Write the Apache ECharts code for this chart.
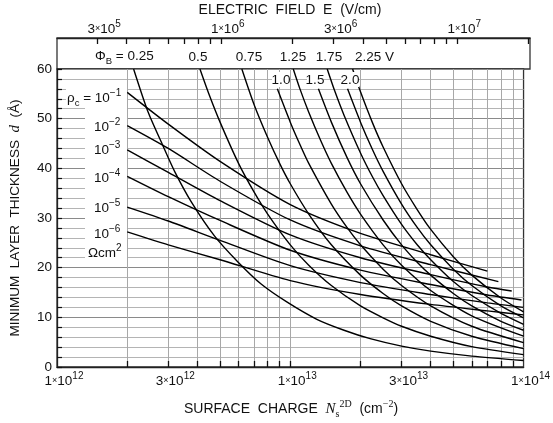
<!DOCTYPE html>
<html>
<head>
<meta charset="utf-8">
<script src="https://cdn.jsdelivr.net/npm/echarts@6/dist/echarts.min.js"></script>
<style>
html, body { margin: 0; padding: 0; background: #fff; }
#chart { width: 553px; height: 423px; }
</style>
</head>
<body>
<div id="chart"></div>
<script>
// surface charge N in units of 1e12 cm^-2, thickness d in Angstrom
const phi025 = [[2.13, 60], [2.45, 51.5], [2.83, 44.8], [3.2, 39.3], [3.77, 33.2], [4.73, 26.4], [5.95, 21.2], [7.5, 16.7], [9.66, 13.1], [13, 9.6], [17, 7.4], [22, 5.7], [30, 4.2], [40, 3.2], [60, 2.2], [100, 1.3]]
const phi050 = [[4.1, 60], [4.5, 54.7], [5, 49.3], [6, 41], [7, 35.2], [8, 30.8], [10, 24.6], [12, 20.5], [15, 16.4], [20, 12.3], [25, 9.9], [30, 8.2], [40, 6.2], [60, 4.1], [100, 2.5]]
const phi075 = [[6.2, 60], [7, 52.8], [8, 46.2], [9, 41], [10, 36.9], [12, 30.8], [15, 24.6], [20, 18.5], [25, 14.8], [30, 12.3], [40, 9.2], [60, 6.2], [100, 3.7]]
const phi100 = [[8.8, 56], [10, 49.3], [11, 44.8], [12, 41], [15, 32.8], [17.5, 28.1], [20, 24.6], [25, 19.7], [30, 16.4], [40, 12.3], [60, 8.2], [100, 4.9]]
const phi125 = [[10.3, 60], [11, 56], [12, 51.3], [13.5, 45.6], [15, 41], [17.5, 35.2], [20, 30.8], [25, 24.6], [30, 20.5], [40, 15.4], [60, 10.3], [100, 6.2]]
const phi150 = [[13.2, 56], [15, 49.3], [17.5, 42.2], [20, 36.9], [25, 29.6], [30, 24.6], [35, 21.1], [40, 18.5], [50, 14.8], [60, 12.3], [80, 9.2], [100, 7.4]]
const phi175 = [[14.4, 60], [15.5, 55.6], [17, 50.7], [20, 43.1], [22.5, 38.3], [25, 34.5], [30, 28.7], [35, 24.6], [40, 21.6], [50, 17.2], [60, 14.4], [80, 10.8], [100, 8.6]]
const phi200 = [[17.6, 56], [20, 49.3], [22.5, 43.8], [25, 39.4], [30, 32.8], [35, 28.1], [40, 24.6], [50, 19.7], [60, 16.4], [80, 12.3], [100, 9.9]]
const phi225 = [[18.5, 60], [20, 55.4], [22.5, 49.2], [25, 44.3], [30, 36.9], [35, 31.7], [40, 27.7], [50, 22.2], [60, 18.5], [80, 13.9], [100, 11.1]]

const rho1 = [[2, 55.3], [3, 48.9], [5, 41.4], [10, 32.7], [20, 26.9], [40, 22.6], [70, 19.3]]
const rho2 = [[2, 48.6], [3, 44], [5, 37.4], [10, 29.6], [20, 24.4], [40, 20.6], [78, 17.2]]
const rho3 = [[2, 43.7], [3, 39.2], [5, 33.5], [10, 26.6], [20, 22], [40, 18.6], [70, 16.1], [89, 15.3]]
const rho4 = [[2, 38.4], [3, 34.3], [5, 29.5], [10, 23.5], [20, 19.5], [40, 16.6], [70, 14.5], [98, 13.5]]
const rho5 = [[2, 32.2], [3, 29.4], [5, 25.5], [10, 20.4], [20, 17], [40, 14.6], [70, 12.9], [100, 12]]
const rho6 = [[2, 27.2], [3, 24.6], [5, 21.6], [10, 17.4], [20, 14.6], [40, 12.6], [70, 11.3], [100, 10.5]]

const bottomLabels = [1e12, 3e12, 1e13, 3e13, 1e14]
const topLabels = [3e5, 1e6, 3e6, 1e7]
const fieldMin = 2.03e5   // E at N = 1e12
const fieldMax = 2.03e7   // E at N = 1e14

const FONT = '"Liberation Sans", Arial, Helvetica, sans-serif'
const lg = Math.log10

function logTicks (from, to) {
  let out = []
  for (let e = Math.floor(from); e <= Math.ceil(to); e++) {
    for (let k = 1; k < 10; k++) {
      let v = e + lg(k)
      if (v > from + 1e-6 && v < to - 1e-6) out.push(v)
    }
  }
  return out
}

function sciLabel (v) {
  let e = Math.floor(v + 1e-6)
  let m = Math.round(Math.pow(10, v - e))
  return '{b|' + m + '}{x|×}{b|10}{s|' + e + '}'
}

const labelRich = {
  b: { fontSize: 13.5, fontFamily: FONT, color: '#111', lineHeight: 20 },
  x: { fontSize: 9, fontFamily: FONT, color: '#111', lineHeight: 20 },
  s: { fontSize: 10, fontFamily: FONT, color: '#111', verticalAlign: 'top', lineHeight: 11 }
}

function toSeries (pts) {
  return {
    type: 'line',
    xAxisIndex: 0,
    yAxisIndex: 0,
    data: pts.map(p => [12 + lg(p[0]), p[1]]),
    showSymbol: false,
    smooth: 0.25,
    lineStyle: { color: '#000', width: 1.4 },
    silent: true,
    animation: false
  }
}

const allCurves = [phi025, phi050, phi075, phi100, phi125, phi150, phi175, phi200, phi225,
  rho1, rho2, rho3, rho4, rho5, rho6]

function txt (x, y, text, align, size) {
  return {
    type: 'text', x: x, y: y, z: 20,
    style: {
      text: text, align: align || 'center', verticalAlign: 'middle',
      fontSize: size || 13.5, fontFamily: FONT, fill: '#111',
      rich: {
        sub: { fontSize: 9.5, fontFamily: FONT, verticalAlign: 'bottom', lineHeight: 10 },
        sup: { fontSize: 10, fontFamily: FONT, verticalAlign: 'top', lineHeight: 11 },
        n: { fontSize: 13.5, fontFamily: FONT, lineHeight: 20 }
      }
    }
  }
}

function whiteBox (x, y, w, h) {
  return { type: 'rect', z: 15, shape: { x: x, y: y, width: w, height: h }, style: { fill: '#fff' }, silent: true }
}

let chart = echarts.init(document.getElementById('chart'))
let option = {
  backgroundColor: '#fff',
  animation: false,
  grid: [
    { left: 57, right: 23, top: 69, bottom: 56, show: true, borderColor: '#333', borderWidth: 1.3, containLabel: false },
    { left: 57, right: 23, top: 38, height: 31, show: true, borderColor: '#333', borderWidth: 1.3, containLabel: false }
  ],
  xAxis: [
    {
      type: 'value', gridIndex: 0, min: 12, max: 14, position: 'bottom',
      axisLine: { show: true, onZero: false, lineStyle: { color: '#222', width: 1.3 } },
      axisTick: { show: true, inside: true, length: 6, customValues: logTicks(12, 14), lineStyle: { color: '#111', width: 1.3 } },
      axisLabel: {
        customValues: bottomLabels.map(lg), formatter: sciLabel, rich: labelRich,
        margin: 4, padding: [0, 0, 0, 14], hideOverlap: false, showMinLabel: true, showMaxLabel: true
      },
      splitLine: { show: true, lineStyle: { color: '#a8a8a8', width: 1 } }
    },
    {
      type: 'value', gridIndex: 1, min: lg(fieldMin), max: lg(fieldMax), position: 'top',
      axisLine: { show: true, onZero: false, lineStyle: { color: '#222', width: 1.3 } },
      axisTick: { show: true, inside: true, length: 6, customValues: logTicks(lg(fieldMin), lg(fieldMax)), lineStyle: { color: '#111', width: 1.3 } },
      axisLabel: {
        customValues: topLabels.map(lg), formatter: sciLabel, rich: labelRich,
        margin: -1, padding: [0, 0, 0, 14]
      },
      splitLine: { show: false }
    }
  ],
  yAxis: [
    {
      type: 'value', gridIndex: 0, min: 0, max: 60, interval: 2,
      axisLine: { show: true, onZero: false, lineStyle: { color: '#222', width: 1.3 } },
      axisTick: { show: true, inside: true, length: 5, lineStyle: { color: '#111', width: 1.2 } },
      axisLabel: {
        margin: 5, fontSize: 13.5, fontFamily: FONT, color: '#111',
        formatter: v => (v % 10 === 0 ? String(v) : '')
      },
      splitLine: { show: true, lineStyle: { color: ['#8a8a8a', '#b4b4b4', '#b4b4b4', '#b4b4b4', '#b4b4b4'], width: 1 } },
      name: '{t|MINIMUM  LAYER  THICKNESS  }{i|d}{t|  (Å)}',
      nameLocation: 'middle', nameGap: 34, nameRotate: 90,
      nameTextStyle: {
        rich: {
          t: { fontSize: 13.5, fontFamily: FONT, color: '#111' },
          i: { fontSize: 15, fontFamily: '"Liberation Serif", "DejaVu Serif", serif', fontStyle: 'italic', color: '#111' }
        }
      }
    },
    { type: 'value', gridIndex: 1, min: 0, max: 1, show: false }
  ],
  graphic: [
    txt(290, 10, 'ELECTRIC  FIELD  E  (V/cm)', 'center', 14),
    {
      type: 'text', x: 291, y: 409, z: 20,
      style: {
        text: '{t|SURFACE  CHARGE  }{i|N}{ss|s}{sp|2D}{t|  (cm}{sp|−2}{t|)}',
        align: 'center', verticalAlign: 'middle', fill: '#111',
        rich: {
          t: { fontSize: 14, fontFamily: FONT, lineHeight: 20 },
          i: { fontSize: 15, fontFamily: '"Liberation Serif", serif', fontStyle: 'italic', lineHeight: 20 },
          ss: { fontSize: 10, fontFamily: '"Liberation Serif", serif', verticalAlign: 'bottom', lineHeight: 12 },
          sp: { fontSize: 10, fontFamily: '"Liberation Serif", serif', verticalAlign: 'top', lineHeight: 10 }
        }
      }
    },
    // Phi_B labels in the band above the plot
    txt(95, 56, '{n|Φ}{sub|B}{n| = 0.25}', 'left'),
    txt(198, 57, '0.5'),
    txt(249, 57, '0.75'),
    txt(293, 57, '1.25'),
    txt(329, 57, '1.75'),
    txt(355, 57, '2.25 V', 'left'),
    whiteBox(272, 72, 18, 15),
    whiteBox(307, 72, 17, 15),
    whiteBox(341, 72, 18, 15),
    txt(281, 80, '1.0'),
    txt(315, 80, '1.5'),
    txt(350, 80, '2.0'),
    // rho_c labels
    whiteBox(66, 84, 61, 22),
    whiteBox(85, 106, 42, 161),
    txt(67, 98, '{n|ρ}{sub|c}{n| = 10}{sup|−1}', 'left'),
    txt(94, 127, '{n|10}{sup|−2}', 'left'),
    txt(94, 150, '{n|10}{sup|−3}', 'left'),
    txt(94, 178, '{n|10}{sup|−4}', 'left'),
    txt(94, 208, '{n|10}{sup|−5}', 'left'),
    txt(94, 234, '{n|10}{sup|−6}', 'left'),
    txt(88, 253, '{n|Ωcm}{sup|2}', 'left')
  ],
  series: allCurves.map(toSeries)
}
chart.setOption(option)
</script>
</body>
</html>
